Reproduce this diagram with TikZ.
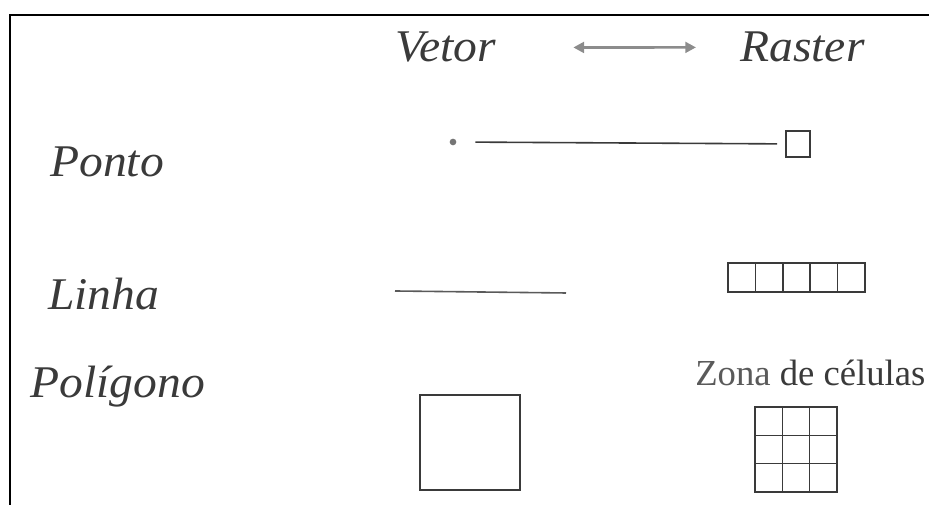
\documentclass[tikz,border=0pt]{standalone}
\usepackage{fontspec}
\setmainfont{Liberation Serif}
\newfontfamily\labelfont[FakeStretch=1.05]{Liberation Serif}
\usepackage{xcolor}
\usetikzlibrary{arrows.meta,positioning}
\definecolor{inkgray}{HTML}{3A3A3A}
\definecolor{lightink}{HTML}{5A5A5A}
\definecolor{arrowgray}{HTML}{8C8C8C}
\tikzset{
  rowlabel/.style={inner sep=0pt, anchor=base west, text=inkgray, font=\labelfont\fontsize{34}{40}\selectfont\itshape},
  caption/.style={inner sep=0pt, anchor=base west, text=inkgray, font=\fontsize{27.5}{32}\selectfont},
  cell/.style={draw=inkgray, line width=1.2pt},
  vline/.style={draw=inkgray, line width=1.2pt},
  dblarrow/.style={{Triangle[length=8pt,width=8pt]}-{Triangle[length=8pt,width=8pt]}, draw=arrowgray, line width=2pt},
  frame/.style={draw=black, line width=1.8pt}
}
\begin{document}
\begin{tikzpicture}[x=0.75pt,y=0.75pt]
  \useasboundingbox (0,0) rectangle (929,505);
  \draw[frame] (929,490) -- (10,490) -- (10,0);

  \node[rowlabel] (vetor) at (395,443) {Vetor};
  \node[rowlabel] (raster) at (740,443) {Raster};
  \draw[dblarrow, shorten <=58pt, shorten >=33pt] (vetor.east) -- (raster.west);

  \node[rowlabel] (ponto) at (50,328) {Ponto};
  \node[rowlabel] (linha) at (48,195) {Linha};
  \node[rowlabel] (poligono) at (30,107) {Polígono};

  % ponto
  \node[circle, fill=inkgray!70, inner sep=0pt, minimum size=5pt] (vdot) at (453,363) {};
  \node[draw=inkgray, line width=1.2pt, inner sep=0pt, minimum width=18pt, minimum height=19.5pt] (rcell) at (798,361) {};
  \draw[vline, shorten <=14pt, shorten >=6pt] (vdot) -- (rcell);

  % linha
  \draw[vline, draw=lightink] (395,214) -- (566,212);
  \foreach \i in {0,...,4}
    \draw[cell] ({728+27.4*\i},213) rectangle ++(27.4,29);
  \node[caption] (zona) at (695,119) {\textcolor{lightink}{Zona} de células};

  % poligono
  \draw[cell] (420,15) rectangle (520,110);
  \foreach \i in {0,1,2}
    \foreach \j in {0,1,2}
      \draw[cell] ({755+27.3*\i},{13+28.3*\j}) rectangle ++(27.3,28.3);
\end{tikzpicture}
\end{document}
